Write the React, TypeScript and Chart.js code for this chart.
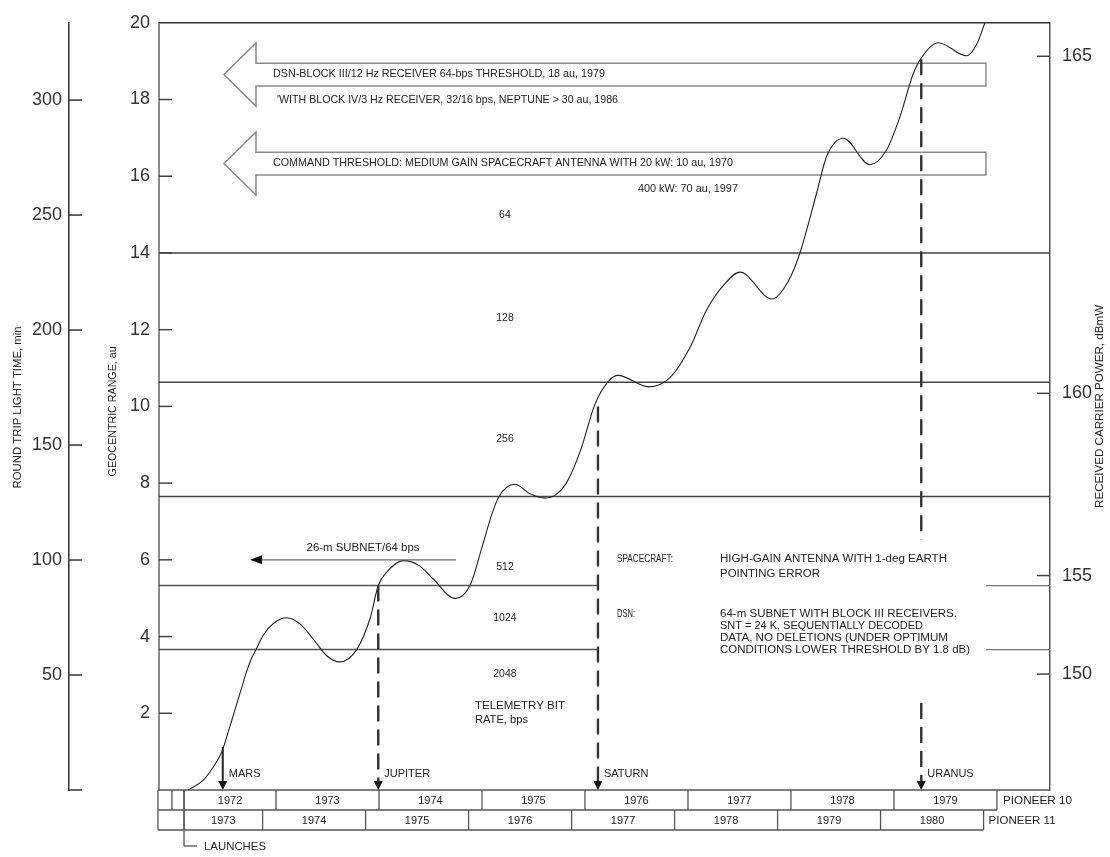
import React, { useEffect, useRef } from 'react';
import { Chart, registerables } from 'chart.js';

Chart.register(...registerables);

// ---------------- DATA ----------------
// Pioneer 10 geocentric range (au) against mission time (Pioneer 10 calendar years)
const missionTime = [
  1972.15, 1972.294, 1972.391, 1972.473, 1972.521, 1972.57, 1972.618, 1972.667, 1972.716,
  1972.764, 1972.806, 1972.877, 1972.974, 1973.104, 1973.233, 1973.363, 1973.492,
  1973.621, 1973.783, 1973.913, 1973.993, 1974.075, 1974.236, 1974.39, 1974.527, 1974.738, 1974.883,
  1975.013, 1975.097, 1975.165, 1975.243, 1975.32, 1975.466, 1975.612, 1975.718, 1975.819,
  1975.958, 1976.097, 1976.233, 1976.32, 1976.617, 1976.825, 1977.033, 1977.172, 1977.346,
  1977.505, 1977.816, 1977.971, 1978.087, 1978.25, 1978.347, 1978.508, 1978.767, 1978.929,
  1979.058, 1979.187, 1979.269, 1979.43, 1979.706, 1979.803, 1979.883, 1979.981,
];
const geocentricRange = [
  0, 0.26, 0.6, 0.99, 1.38, 1.81, 2.24, 2.67, 3.1,
  3.44, 3.66, 4.04, 4.34, 4.49, 4.33, 3.93, 3.5,
  3.34, 3.66, 4.47, 5.33, 5.68, 5.98, 5.85, 5.5, 4.99, 5.33,
  6.45, 7.2, 7.65, 7.9, 7.97, 7.72, 7.61, 7.7, 8.0,
  8.86, 10.06, 10.67, 10.81, 10.51, 10.75, 11.61, 12.47, 13.16,
  13.5, 12.8, 13.25, 14.0, 15.57, 16.52, 16.99, 16.3, 16.69,
  17.55, 18.67, 19.1, 19.48, 19.14, 19.44, 20.0, 20.7,
];

const rangeTickStep = 2; // au
const lightTimeTicks = [0, 50, 100, 150, 200, 250, 300]; // min
const carrierPowerTicks = [150, 155, 160, 165]; // dBmW

// telemetry bit-rate thresholds (au) and the bit-rate bands
const bitRateThresholds = [14.0, 10.63, 7.65, 5.33, 3.66];
const bitRateLabels = ['64', '128', '256', '512', '1024', '2048'];
const bitRateLabelRange = [14.99, 12.31, 9.16, 5.81, 4.49, 3.02];

// planet orbit crossings
const planetNames = ['MARS', 'JUPITER', 'SATURN', 'URANUS'];
const planetTimes = [1972.483, 1973.993, 1976.126, 1979.265];
const planetRanges = [1.12, 5.33, 10.0, 19.05];
const uranusGap = [2.27, 6.53];

// threshold arrows (au)
const blockIIIThreshold = 18.65;
const commandThreshold = 16.33;
const subnet26mThreshold = 6.0;

// calendar tables
const pioneer10Years = [1972, 1973, 1974, 1975, 1976, 1977, 1978, 1979];
const pioneer10Bounds = [1971.854, 1971.99, 1972.107, 1973, 1974, 1975, 1976, 1977, 1978, 1979, 1980];
const pioneer11Years = [1973, 1974, 1975, 1976, 1977, 1978, 1979, 1980];
const pioneer11Bounds = [1971.854, 1972.107, 1972.87, 1973.87, 1974.87, 1975.87, 1976.87, 1977.87, 1978.87, 1979.87];
const launchTime = 1972.107;

// conversions
const MIN_PER_AU = 16.68;
const dbmToAu = (p: number) => Math.pow(10, 0.881 + 0.05342 * (p - 157.5));
const auToDbm = (r: number) => 157.5 + (Math.log10(r) - 0.881) / 0.05342;

const X_MIN = 1971.864;
const X_MAX = 1980.515;

// ---------------- DRAWING HELPERS ----------------
const FONT = '"Liberation Sans", Arial, Helvetica, sans-serif';

function txt(
  ctx: CanvasRenderingContext2D,
  s: string,
  x: number,
  y: number,
  size: number,
  opt: { align?: CanvasTextAlign; w?: number; color?: string; rot?: number } = {}
) {
  ctx.save();
  ctx.font = `${size}px ${FONT}`;
  ctx.fillStyle = opt.color || '#222';
  ctx.textAlign = opt.align || 'left';
  ctx.textBaseline = 'middle';
  ctx.translate(x, y);
  if (opt.rot) ctx.rotate(opt.rot);
  if (opt.w) {
    const m = ctx.measureText(s).width;
    ctx.scale(opt.w / m, 1);
  }
  ctx.fillText(s, 0, 0);
  ctx.restore();
}

function seg(
  ctx: CanvasRenderingContext2D,
  x1: number, y1: number, x2: number, y2: number,
  color: string, width: number, dash: number[] = []
) {
  ctx.save();
  ctx.strokeStyle = color;
  ctx.lineWidth = width;
  ctx.setLineDash(dash);
  ctx.beginPath();
  ctx.moveTo(x1, y1);
  ctx.lineTo(x2, y2);
  ctx.stroke();
  ctx.restore();
}

function hollowArrow(
  ctx: CanvasRenderingContext2D,
  tipX: number, endX: number, cy: number
) {
  const headLen = 32, headHalf = 31.5, shaftHalf = 11.3;
  const hx = tipX + headLen;
  ctx.save();
  ctx.strokeStyle = '#8a8a8a';
  ctx.lineWidth = 1.5;
  ctx.fillStyle = '#fff';
  ctx.beginPath();
  ctx.moveTo(tipX, cy);
  ctx.lineTo(hx, cy - headHalf);
  ctx.lineTo(hx, cy - shaftHalf);
  ctx.lineTo(endX, cy - shaftHalf);
  ctx.lineTo(endX, cy + shaftHalf);
  ctx.lineTo(hx, cy + shaftHalf);
  ctx.lineTo(hx, cy + headHalf);
  ctx.closePath();
  ctx.fill();
  ctx.stroke();
  ctx.restore();
}

function downHead(ctx: CanvasRenderingContext2D, x: number, y: number) {
  ctx.save();
  ctx.fillStyle = '#111';
  ctx.beginPath();
  ctx.moveTo(x - 4.5, y - 9);
  ctx.lineTo(x + 4.5, y - 9);
  ctx.lineTo(x, y);
  ctx.closePath();
  ctx.fill();
  ctx.restore();
}

const overlayPlugin = {
  id: 'pioneerOverlay',
  beforeDatasetsDraw(chart: any) {
    const { ctx, chartArea: a, scales } = chart;
    const X = (t: number) => scales.x.getPixelForValue(t);
    const Y = (r: number) => scales.y.getPixelForValue(r);
    const textStart = X(planetTimes[2]);
    const textEnd = X(1979.893);

    // bit-rate threshold lines
    bitRateThresholds.forEach((r, i) => {
      const y = Y(r);
      if (i >= 3) {
        seg(ctx, a.left, y, textStart, y, '#555', 1.5);
        seg(ctx, textEnd, y, a.right, y, '#777', 1.3);
      } else {
        seg(ctx, a.left, y, a.right, y, '#444', 1.5);
      }
    });

    // big threshold arrows
    const tipX = X(1972.495);
    const endX = X(1979.893);
    hollowArrow(ctx, tipX, endX, Y(blockIIIThreshold));
    hollowArrow(ctx, tipX, endX, Y(commandThreshold));
  },
  afterDatasetsDraw(chart: any) {
    const { ctx, chartArea: a, scales } = chart;
    const X = (t: number) => scales.x.getPixelForValue(t);
    const Y = (r: number) => scales.y.getPixelForValue(r);

    // frame top
    seg(ctx, a.left, a.top, a.right, a.top, '#333', 1.5);

    // inner ticks
    for (let v = rangeTickStep; v < 20; v += rangeTickStep) {
      const y = Y(v);
      seg(ctx, a.left, y, a.left + 13, y, '#444', 1.5);
    }
    const tScale = scales.yTime;
    lightTimeTicks.forEach((m) => {
      const y = tScale.getPixelForValue(m);
      seg(ctx, tScale.right, y, tScale.right + 13, y, '#333', 1.5);
    });
    carrierPowerTicks.forEach((p) => {
      const y = Y(dbmToAu(p));
      seg(ctx, a.right - 13, y, a.right, y, '#444', 1.5);
    });

    // axis titles
    txt(ctx, 'ROUND TRIP LIGHT TIME, min', tScale.left + 18, (a.top + a.bottom) / 2 + 1, 10, { align: 'center', rot: -Math.PI / 2, w: 162 });
    txt(ctx, 'GEOCENTRIC RANGE, au', a.left - 46, (a.top + a.bottom) / 2 + 5, 10, { align: 'center', rot: -Math.PI / 2, w: 130 });
    txt(ctx, 'RECEIVED CARRIER POWER, dBmW', a.right + 50, (a.top + a.bottom) / 2, 10, { align: 'center', rot: -Math.PI / 2, w: 203 });

    // arrow texts
    const tipX = X(1972.495);
    const y1 = Y(blockIIIThreshold);
    const y2 = Y(commandThreshold);
    txt(ctx, 'DSN-BLOCK III/12 Hz RECEIVER 64-bps THRESHOLD, 18 au, 1979', tipX + 49, y1, 10.5, { w: 332 });
    txt(ctx, "'WITH BLOCK IV/3 Hz RECEIVER, 32/16 bps, NEPTUNE > 30 au, 1986", tipX + 53, y1 + 26, 10.5, { w: 341 });
    txt(ctx, 'COMMAND THRESHOLD: MEDIUM GAIN SPACECRAFT ANTENNA WITH 20 kW: 10 au, 1970', tipX + 49, y2, 10.5, { w: 460 });
    txt(ctx, '400 kW: 70 au, 1997', X(1977.485), y2 + 26, 10.5, { align: 'right', w: 100 });

    // 26-m subnet arrow
    const ys = Y(subnet26mThreshold);
    const sx1 = X(1972.748), sx2 = X(1974.748);
    seg(ctx, sx1 + 8, ys, sx2, ys, '#666', 1.3);
    ctx.save();
    ctx.fillStyle = '#111';
    ctx.beginPath();
    ctx.moveTo(sx1, ys);
    ctx.lineTo(sx1 + 12, ys - 4.5);
    ctx.lineTo(sx1 + 12, ys + 4.5);
    ctx.closePath();
    ctx.fill();
    ctx.restore();
    txt(ctx, '26-m SUBNET/64 bps', X(1973.845), ys - 12, 10, { align: 'center', w: 113 });

    // bit-rate labels
    const bx = X(1975.223);
    bitRateLabels.forEach((s, i) => {
      txt(ctx, s, bx, Y(bitRateLabelRange[i]), 10.5, { align: 'center' });
    });
    txt(ctx, 'TELEMETRY BIT', X(1974.932), Y(2.19), 10, { w: 90 });
    txt(ctx, 'RATE, bps', X(1974.932), Y(1.81), 10, { w: 53 });

    // spacecraft / DSN block
    const c1 = X(1976.311), c2 = X(1977.311);
    txt(ctx, 'SPACECRAFT:', c1, Y(6.01), 10.5, { w: 56 });
    txt(ctx, 'HIGH-GAIN ANTENNA WITH 1-deg EARTH', c2, Y(6.01), 10, { w: 227 });
    txt(ctx, 'POINTING ERROR', c2, Y(5.63), 10, { w: 100 });
    txt(ctx, 'DSN:', c1, Y(4.59), 10.5, { w: 18 });
    txt(ctx, '64-m SUBNET WITH BLOCK III RECEIVERS.', c2, Y(4.59), 10, { w: 237 });
    txt(ctx, 'SNT = 24 K, SEQUENTIALLY DECODED', c2, Y(4.28), 10, { w: 203 });
    txt(ctx, 'DATA, NO DELETIONS (UNDER OPTIMUM', c2, Y(3.95), 10, { w: 228 });
    txt(ctx, 'CONDITIONS LOWER THRESHOLD BY 1.8 dB)', c2, Y(3.64), 10, { w: 250 });

    // planet crossing markers
    planetNames.forEach((name, i) => {
      const x = X(planetTimes[i]);
      const top = Y(planetRanges[i]);
      const bottom = a.bottom;
      if (i === 0) {
        seg(ctx, x, top, x, bottom - 6, '#222', 2);
      } else if (name === 'URANUS') {
        seg(ctx, x, top, x, Y(uranusGap[1]), '#333', 2.4, [16, 8]);
        seg(ctx, x, Y(uranusGap[0]), x, bottom - 6, '#333', 2.4, [16, 8]);
      } else {
        seg(ctx, x, top, x, bottom - 6, '#333', 2.4, [16, 8]);
      }
      downHead(ctx, x, bottom);
      txt(ctx, name, x + 6, bottom - 16, 11);
    });

    // calendar table
    const r0 = a.bottom, r1 = a.bottom + 20, r2 = a.bottom + 40;
    const lc = '#555';
    const p10L = X(pioneer10Bounds[0]);
    const p10R = X(pioneer10Bounds[pioneer10Bounds.length - 1]);
    const p11R = X(pioneer11Bounds[pioneer11Bounds.length - 1]);
    seg(ctx, p10L, r0, a.right, r0, lc, 1.4);
    seg(ctx, p10L, r1, p10R, r1, lc, 1.4);
    seg(ctx, p10L, r2, p11R, r2, lc, 1.4);
    pioneer10Bounds.forEach((t) => seg(ctx, X(t), r0, X(t), r1, lc, 1.3));
    pioneer11Bounds.forEach((t) => seg(ctx, X(t), r1, X(t), r2, lc, 1.3));
    pioneer10Years.forEach((yr, i) => {
      const cx = (X(pioneer10Bounds[i + 2]) + X(pioneer10Bounds[i + 3])) / 2;
      txt(ctx, String(yr), cx, r0 + 10.5, 11, { align: 'center' });
    });
    pioneer11Years.forEach((yr, i) => {
      const cx = (X(pioneer11Bounds[i + 1]) + X(pioneer11Bounds[i + 2])) / 2;
      txt(ctx, String(yr), cx, r1 + 10.5, 11, { align: 'center' });
    });
    txt(ctx, 'PIONEER 10', p10R + 6, r0 + 10.5, 11, { w: 69 });
    txt(ctx, 'PIONEER 11', p11R + 5, r1 + 10.5, 11, { w: 67 });

    // launches bracket
    const lx = X(launchTime);
    seg(ctx, lx, r0, lx, r2 + 16, lc, 1.3);
    seg(ctx, lx, r2 + 16, lx + 13, r2 + 16, lc, 1.3);
    txt(ctx, 'LAUNCHES', lx + 20, r2 + 17, 11, { w: 62 });
  },
};

// ---------------- COMPONENT ----------------
export default function App() {
  const canvasRef = useRef<HTMLCanvasElement | null>(null);

  useEffect(() => {
    if (!canvasRef.current) return;
    const tickFont = { size: 18, family: FONT };
    const chart = new Chart(canvasRef.current, {
      type: 'line',
      data: {
        datasets: [
          {
            label: 'Pioneer 10 geocentric range',
            data: missionTime.map((t, i) => ({ x: t, y: geocentricRange[i] })),
            borderColor: '#222',
            borderWidth: 1.1,
            pointRadius: 0,
            cubicInterpolationMode: 'monotone',
            fill: false,
            yAxisID: 'y',
            xAxisID: 'x',
          },
        ],
      },
      options: {
        responsive: false,
        animation: false,
        events: [],
        layout: { padding: { top: 16, bottom: 67, left: 0, right: 0 } },
        plugins: { legend: { display: false }, tooltip: { enabled: false } },
        scales: {
          x: { type: 'linear', display: false, min: X_MIN, max: X_MAX },
          y: {
            type: 'linear',
            position: 'left',
            weight: 0,
            min: 0,
            max: 20,
            afterFit: (s: any) => { s.width = 90; },
            grid: { display: false, drawTicks: false },
            border: { display: true, color: '#8a8a8a', width: 2 },
            ticks: {
              stepSize: rangeTickStep,
              includeBounds: false,
              autoSkip: false,
              padding: 9,
              color: '#333',
              font: tickFont,
              callback: (v: any) => (v === 0 ? '' : String(v)),
            },
          },
          yTime: {
            type: 'linear',
            position: 'left',
            weight: 10,
            min: 0,
            max: 20 * MIN_PER_AU,
            afterFit: (s: any) => { s.width = 69; },
            afterBuildTicks: (s: any) => { s.ticks = lightTimeTicks.map((m) => ({ value: m })); },
            grid: { display: false, drawTicks: false },
            border: { display: true, color: '#333', width: 1.5 },
            ticks: {
              autoSkip: false,
              padding: 7,
              color: '#333',
              font: tickFont,
              callback: (v: any) => (v === 0 ? '' : String(v)),
            },
          },
          yPow: {
            type: 'linear',
            position: 'right',
            min: 0,
            max: 20,
            afterFit: (s: any) => { s.width = 60; },
            afterBuildTicks: (s: any) => { s.ticks = carrierPowerTicks.map((p) => ({ value: dbmToAu(p) })); },
            grid: { display: false, drawTicks: false },
            border: { display: true, color: '#555', width: 1.5 },
            ticks: {
              autoSkip: false,
              padding: 12,
              color: '#333',
              font: tickFont,
              callback: (v: any) => String(Math.round(auToDbm(v))),
            },
          },
        },
      },
      plugins: [overlayPlugin],
    } as any);
    return () => chart.destroy();
  }, []);

  return (
    <div style={{ position: 'fixed', left: 0, top: 0, width: 1110, height: 857, background: '#fff' }}>
      <canvas ref={canvasRef} width={1110} height={857} style={{ display: 'block' }} />
    </div>
  );
}
